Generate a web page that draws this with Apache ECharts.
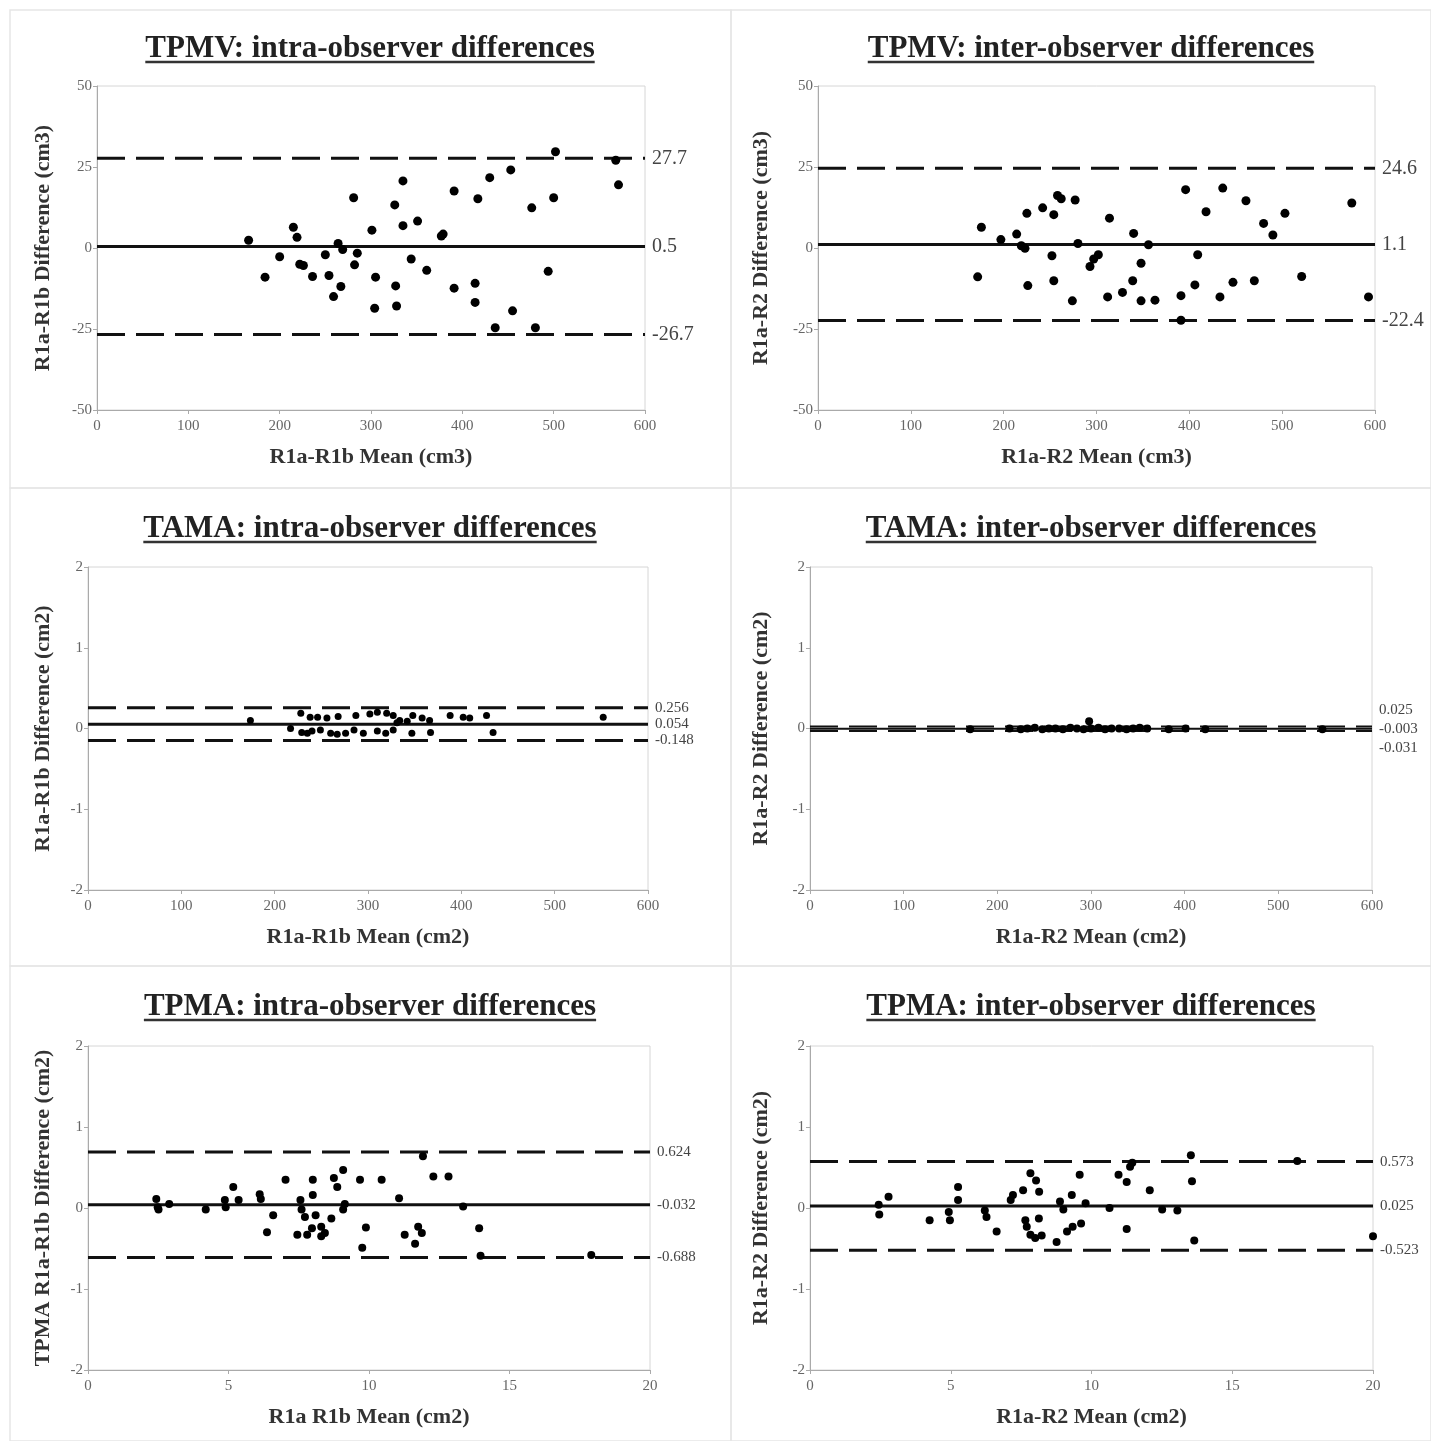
<!DOCTYPE html>
<html>
<head>
<meta charset="utf-8">
<title>Bland-Altman: TPMV, TAMA, TPMA</title>
<script src="https://cdn.jsdelivr.net/npm/echarts@6/dist/echarts.min.js"></script>
<style>
  html, body { margin: 0; padding: 0; background: #fff; }
  #chart { width: 1431px; height: 1441px; }
</style>
</head>
<body>
<div id="chart"></div>
<script>
// TPMV intra-observer (R1a vs R1b), cm3
const tpmvIntraMean = [166, 184, 200, 215, 219, 222, 226, 236, 250, 254, 259, 264, 267, 269, 285, 281, 282, 301, 305, 304,
  326, 327, 328, 335, 335, 344, 351, 361, 377, 379, 391, 391, 414, 414, 417, 430, 436, 453, 455, 476, 480, 494, 500, 502, 568, 571]
const tpmvIntraDiff = [2.4, -9.0, -2.7, 6.4, 3.3, -5.0, -5.4, -8.8, -2.1, -8.5, -15.0, 1.4, -11.9, -0.5, -1.6, 15.5, -5.2, 5.5, -9.0, -18.6,
  13.3, -11.7, -17.9, 20.7, 6.9, -3.4, 8.3, -6.9, 3.7, 4.3, 17.6, -12.4, -10.9, -16.8, 15.2, 21.7, -24.6, 24.1, -19.4, 12.4, -24.6, -7.2, 15.5, 29.7, 27.1, 19.5]
const tpmvIntraLines = [27.7, 0.5, -26.7]
const tpmvIntraLabels = ['27.7', '0.5', '-26.7']

// TPMV inter-observer (R1a vs R2), cm3
const tpmvInterMean = [172, 176, 197, 214, 219, 223, 225, 226, 242, 252, 254, 254, 258, 262, 277, 280, 274, 293, 297, 302,
  312, 314, 328, 339, 340, 348, 348, 356, 363, 391, 391, 396, 406, 409, 418, 433, 436, 447, 461, 470, 480, 490, 503, 521, 575, 593]
const tpmvInterDiff = [-8.9, 6.4, 2.6, 4.3, 0.7, -0.1, 10.7, -11.6, 12.4, -2.4, 10.3, -10.1, 16.2, 15.2, 14.8, 1.4, -16.3, -5.7, -3.4, -2.1,
  -15.1, 9.2, -13.7, -10.1, 4.5, -4.7, -16.3, 1.0, -16.1, -14.7, -22.3, 18.0, -11.4, -2.1, 11.2, -15.1, 18.5, -10.6, 14.6, -10.1, 7.6, 4.0, 10.7, -8.8, 13.9, -15.1]
const tpmvInterLines = [24.6, 1.1, -22.4]
const tpmvInterLabels = ['24.6', '1.1', '-22.4']

// TAMA intra-observer, cm2
const tamaIntraMean = [174, 228, 238, 246, 256, 268, 287, 302, 310, 320, 327, 334, 342, 348, 358, 366, 388, 402, 409, 427, 552, 331,
  217, 229, 235, 240, 249, 260, 267, 276, 285, 295, 310, 319, 327, 347, 367, 434]
const tamaIntraDiff = [0.10, 0.19, 0.14, 0.14, 0.13, 0.15, 0.16, 0.18, 0.20, 0.19, 0.16, 0.10, 0.09, 0.16, 0.13, 0.10, 0.16, 0.14, 0.13, 0.16, 0.14, 0.07,
  0.00, -0.05, -0.06, -0.03, -0.02, -0.06, -0.07, -0.06, -0.02, -0.06, -0.03, -0.06, -0.02, -0.06, -0.05, -0.05]
const tamaIntraLines = [0.256, 0.054, -0.148]
const tamaIntraLabels = ['0.256', '0.054', '-0.148']

// TAMA inter-observer, cm2
const tamaInterMean = [171, 213, 225, 232, 240, 248, 255, 262, 270, 278, 285, 292, 298, 300, 308, 315, 322, 330, 338, 345, 352, 360, 383, 401, 422, 547]
const tamaInterDiff = [-0.01, 0, -0.01, 0, 0.01, -0.01, 0, 0, -0.01, 0.01, 0, -0.01, 0.09, 0, 0.01, -0.01, 0, 0, -0.01, 0, 0.01, 0, -0.01, 0, -0.01, -0.01]
const tamaInterLines = [0.025, -0.003, -0.031]
const tamaInterLabels = ['0.025', '-0.003', '-0.031']

// TPMA intra-observer, cm2 (lines drawn where the figure shows them)
const tpmaIntraMean = [2.43, 2.48, 2.51, 2.89, 4.19, 4.87, 4.90, 5.17, 5.36, 6.11, 6.15, 6.37, 6.59, 7.03, 7.45, 7.56, 7.60, 7.72, 7.80, 7.97,
  8.00, 8.00, 8.10, 8.30, 8.30, 8.43, 8.66, 8.75, 8.87, 9.08, 9.08, 9.14, 9.68, 9.76, 9.89, 10.45, 11.07, 11.27, 11.64, 11.75,
  11.88, 11.92, 12.29, 12.83, 13.35, 13.92, 13.97, 17.91]
const tpmaIntraDiff = [0.11, 0.01, -0.02, 0.05, -0.02, 0.10, 0.01, 0.26, 0.10, 0.17, 0.11, -0.30, -0.09, 0.35, -0.33, 0.10, -0.02, -0.11, -0.33, -0.25,
  0.35, 0.16, -0.09, -0.23, -0.35, -0.31, -0.13, 0.37, 0.26, 0.47, -0.02, 0.05, 0.35, -0.49, -0.24, 0.35, 0.12, -0.33, -0.44, -0.23,
  -0.31, 0.64, 0.39, 0.39, 0.02, -0.25, -0.59, -0.58]
const tpmaIntraLines = [0.69, 0.04, -0.61]
const tpmaIntraLabels = ['0.624', '-0.032', '-0.688']

// TPMA inter-observer, cm2
const tpmaInterMean = [2.44, 2.46, 2.79, 4.25, 4.93, 4.97, 5.26, 5.26, 6.21, 6.27, 6.63, 7.13, 7.21, 7.57, 7.65, 7.70, 7.83, 7.83, 8.00, 8.03,
  8.13, 8.14, 8.23, 8.76, 8.88, 9.00, 9.13, 9.30, 9.33, 9.58, 9.63, 9.79, 10.64, 10.96, 11.25, 11.25, 11.37, 11.45, 12.07, 12.51,
  13.05, 13.53, 13.57, 13.65, 17.31, 20.0]
const tpmaInterDiff = [0.04, -0.08, 0.14, -0.15, -0.05, -0.15, 0.26, 0.10, -0.03, -0.11, -0.29, 0.10, 0.16, 0.22, -0.15, -0.23, 0.43, -0.33, -0.37, 0.34,
  -0.13, 0.20, -0.34, -0.42, 0.08, -0.02, -0.29, 0.16, -0.23, 0.41, -0.19, 0.06, 0.00, 0.41, 0.32, -0.26, 0.51, 0.56, 0.22, -0.02,
  -0.03, 0.65, 0.33, -0.40, 0.58, -0.35]
const tpmaInterLines = [0.573, 0.025, -0.523]
const tpmaInterLabels = ['0.573', '0.025', '-0.523']

const FONT = '"Liberation Serif", "DejaVu Serif", serif'
const TITLE_SIZE = 31

const panels = [
  { title: 'TPMV: intra-observer differences', xName: 'R1a-R1b Mean (cm3)', yName: 'R1a-R1b Difference (cm3)',
    mean: tpmvIntraMean, diff: tpmvIntraDiff, lines: tpmvIntraLines, labels: tpmvIntraLabels,
    grid: [97, 86, 548, 324], titleX: 370, titleY: 33, x: [0, 600, 100], y: [-50, 50, 25],
    nameGap: 43, dot: 9, lineW: 3, labelSize: 20, shift: [0, 0, 0] },
  { title: 'TPMV: inter-observer differences', xName: 'R1a-R2 Mean (cm3)', yName: 'R1a-R2 Difference (cm3)',
    mean: tpmvInterMean, diff: tpmvInterDiff, lines: tpmvInterLines, labels: tpmvInterLabels,
    grid: [818, 86, 557, 324], titleX: 1091, titleY: 33, x: [0, 600, 100], y: [-50, 50, 25],
    nameGap: 46, dot: 9, lineW: 3, labelSize: 20, shift: [0, 0, 0] },
  { title: 'TAMA: intra-observer differences', xName: 'R1a-R1b Mean (cm2)', yName: 'R1a-R1b Difference (cm2)',
    mean: tamaIntraMean, diff: tamaIntraDiff, lines: tamaIntraLines, labels: tamaIntraLabels,
    grid: [88, 567, 560, 323], titleX: 370, titleY: 513, x: [0, 600, 100], y: [-2, 2, 1],
    nameGap: 34, dot: 7, lineW: 3, labelSize: 15, shift: [0, 0, 0] },
  { title: 'TAMA: inter-observer differences', xName: 'R1a-R2 Mean (cm2)', yName: 'R1a-R2 Difference (cm2)',
    mean: tamaInterMean, diff: tamaInterDiff, lines: tamaInterLines, labels: tamaInterLabels,
    grid: [810, 567, 562, 323], titleX: 1091, titleY: 513, x: [0, 600, 100], y: [-2, 2, 1],
    nameGap: 38, dot: 8, lineW: 2, labelSize: 15, shift: [-16, 0, 17] },
  { title: 'TPMA: intra-observer differences', xName: 'R1a R1b Mean (cm2)', yName: 'TPMA R1a-R1b Difference (cm2)',
    mean: tpmaIntraMean, diff: tpmaIntraDiff, lines: tpmaIntraLines, labels: tpmaIntraLabels,
    grid: [88, 1046, 562, 324], titleX: 370, titleY: 991, x: [0, 20, 5], y: [-2, 2, 1],
    nameGap: 34, dot: 8, lineW: 3, labelSize: 15, shift: [0, 0, 0] },
  { title: 'TPMA: inter-observer differences', xName: 'R1a-R2 Mean (cm2)', yName: 'R1a-R2 Difference (cm2)',
    mean: tpmaInterMean, diff: tpmaInterDiff, lines: tpmaInterLines, labels: tpmaInterLabels,
    grid: [810, 1046, 563, 324], titleX: 1091, titleY: 991, x: [0, 20, 5], y: [-2, 2, 1],
    nameGap: 38, dot: 8, lineW: 3, labelSize: 15, shift: [0, 0, 0] }
]

const chart = echarts.init(document.getElementById('chart'))

// measure title width for the underline
const ctx = document.createElement('canvas').getContext('2d')
ctx.font = 'bold ' + TITLE_SIZE + 'px ' + FONT

const titles = []
const grids = []
const xAxes = []
const yAxes = []
const series = []
const graphics = []

// light frames around the six cells
const cols = [[10, 721], [731, 700]]
const rows = [[10, 478], [488, 478], [966, 475]]
rows.forEach(r => cols.forEach(c => {
  graphics.push({ type: 'rect', shape: { x: c[0], y: r[0], width: c[1], height: r[1] }, style: { fill: 'none', stroke: '#e6e6e6', lineWidth: 1.5 }, silent: true })
}))

panels.forEach((p, i) => {
  titles.push({
    text: p.title, left: p.titleX, top: p.titleY, textAlign: 'center', padding: 0,
    textStyle: { fontFamily: FONT, fontSize: TITLE_SIZE, fontWeight: 'bold', color: '#222' }
  })
  const w = ctx.measureText(p.title).width
  graphics.push({ type: 'line', shape: { x1: p.titleX - w / 2, y1: p.titleY + 29, x2: p.titleX + w / 2, y2: p.titleY + 29 },
    style: { stroke: '#333', lineWidth: 2.5 }, silent: true })

  grids.push({ left: p.grid[0], top: p.grid[1], width: p.grid[2], height: p.grid[3], show: true, borderColor: '#d6d6d6', borderWidth: 1 })
  xAxes.push({
    gridIndex: i, type: 'value', min: p.x[0], max: p.x[1], interval: p.x[2],
    name: p.xName, nameLocation: 'middle', nameGap: 36,
    nameTextStyle: { fontFamily: FONT, fontSize: 22, fontWeight: 'bold', color: '#333' },
    axisLine: { onZero: false, lineStyle: { color: '#aaa' } },
    axisTick: { show: true, length: 4, lineStyle: { color: '#aaa' } },
    axisLabel: { fontFamily: FONT, fontSize: 15, color: '#666', margin: 9 },
    splitLine: { show: false }
  })
  yAxes.push({
    gridIndex: i, type: 'value', min: p.y[0], max: p.y[1], interval: p.y[2],
    name: p.yName, nameLocation: 'middle', nameGap: p.nameGap, nameRotate: 90,
    nameTextStyle: { fontFamily: FONT, fontSize: 22, fontWeight: 'bold', color: '#333' },
    axisLine: { show: true, onZero: false, lineStyle: { color: '#aaa' } },
    axisTick: { show: true, length: 4, lineStyle: { color: '#aaa' } },
    axisLabel: { fontFamily: FONT, fontSize: 15, color: '#666', margin: 5 },
    splitLine: { show: false }
  })

  // limits of agreement and mean difference
  p.lines.forEach((v, k) => {
    series.push({
      type: 'line', xAxisIndex: i, yAxisIndex: i, z: 2,
      data: [[p.x[0], v], [p.x[1], v]],
      symbol: 'none', silent: true,
      lineStyle: { color: '#111', width: p.lineW, type: k === 1 ? 'solid' : [28, 11] },
      endLabel: { show: true, formatter: p.labels[k], distance: 7, offset: [0, p.shift[k]],
        fontFamily: FONT, fontSize: p.labelSize, color: '#444' }
    })
  })

  series.push({
    type: 'scatter', xAxisIndex: i, yAxisIndex: i, z: 3,
    data: p.mean.map((m, j) => [m, p.diff[j]]),
    symbol: 'circle', symbolSize: p.dot,
    itemStyle: { color: '#000', opacity: 1 }
  })
})

chart.setOption({
  animation: false,
  backgroundColor: '#fff',
  title: titles,
  grid: grids,
  xAxis: xAxes,
  yAxis: yAxes,
  series: series,
  graphic: graphics
})
</script>
</body>
</html>
